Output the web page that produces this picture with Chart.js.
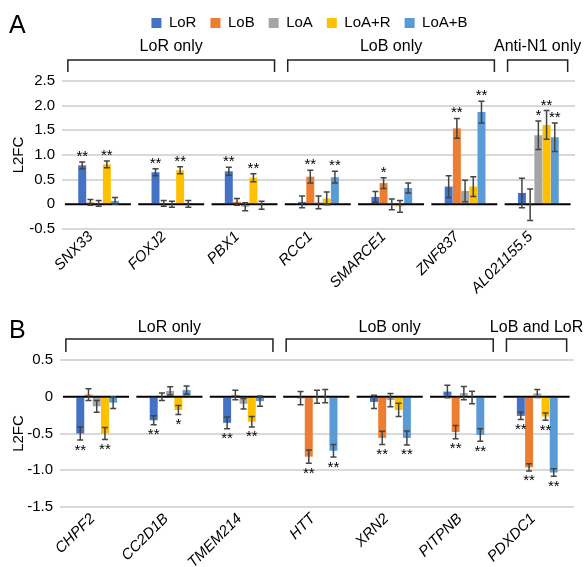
<!DOCTYPE html>
<html>
<head>
<meta charset="utf-8">
<script src="https://cdn.jsdelivr.net/npm/chart.js@4.4.1/dist/chart.umd.min.js"></script>
<style>
  html, body { margin: 0; padding: 0; background: #fff; }
  #wrapA { position: absolute; left: 0; top: 0; width: 588px; height: 310px; }
  #wrapB { position: absolute; left: 0; top: 296px; width: 588px; height: 271px; }
</style>
</head>
<body>
<div id="wrapA"><canvas id="chartA" width="588" height="310"></canvas></div>
<div id="wrapB"><canvas id="chartB" width="588" height="271"></canvas></div>
<script>
// --- data ---
const seriesNames = ['LoR', 'LoB', 'LoA', 'LoA+R', 'LoA+B'];
const seriesColors = ['#4472C4', '#ED7D31', '#A5A5A5', '#FFC000', '#5B9BD5'];

// Panel A
const genesA = ['SNX33', 'FOXJ2', 'PBX1', 'RCC1', 'SMARCE1', 'ZNF837', 'AL021155.5'];
const lorA  = [0.79, 0.65, 0.67, 0.05, 0.15, 0.36, 0.23];
const lobA  = [0.04, 0.02, 0.05, 0.56, 0.43, 1.54, -0.01];
const loaA  = [0.02, 0.00, -0.05, 0.04, 0.00, 0.27, 1.40];
const loarA = [0.81, 0.69, 0.54, 0.12, -0.04, 0.36, 1.61];
const loabA = [0.07, 0.01, -0.02, 0.55, 0.33, 1.87, 1.36];

const lorErrA  = [0.07, 0.07, 0.08, 0.12, 0.11, 0.22, 0.30];
const lobErrA  = [0.06, 0.06, 0.07, 0.13, 0.11, 0.20, 0.32];
const loaErrA  = [0.06, 0.06, 0.08, 0.13, 0.11, 0.22, 0.29];
const loarErrA = [0.07, 0.07, 0.08, 0.13, 0.12, 0.20, 0.29];
const loabErrA = [0.07, 0.07, 0.08, 0.12, 0.10, 0.22, 0.29];

const lorStarsA  = ['**', '**', '**', '', '', '', ''];
const lobStarsA  = ['', '', '', '**', '*', '**', ''];
const loaStarsA  = ['', '', '', '', '', '', '*'];
const loarStarsA = ['**', '**', '**', '', '', '', '**'];
const loabStarsA = ['', '', '', '**', '', '**', '**'];

const groupsA = ['LoR only', 'LoB only', 'Anti-N1 only'];
const groupSpansA = [[0, 2], [3, 5], [6, 6]];
const yTicksA = { min: -0.5, max: 2.5, step: 0.5 };

// Panel B
const genesB = ['CHPF2', 'CC2D1B', 'TMEM214', 'HTT', 'XRN2', 'PITPNB', 'PDXDC1'];
const lorB  = [-0.50, -0.32, -0.355, -0.02, -0.07, 0.07, -0.26];
const lobB  = [0.03, 0.00, 0.025, -0.815, -0.56, -0.48, -0.96];
const loaB  = [-0.13, 0.08, -0.095, 0.00, -0.045, 0.05, 0.045];
const loarB = [-0.50, -0.18, -0.34, 0.01, -0.18, -0.01, -0.27];
const loabB = [-0.08, 0.09, -0.06, -0.735, -0.56, -0.52, -1.03];

const lorErrB  = [0.09, 0.06, 0.08, 0.09, 0.09, 0.085, 0.05];
const lobErrB  = [0.08, 0.05, 0.065, 0.09, 0.09, 0.09, 0.05];
const loaErrB  = [0.08, 0.055, 0.07, 0.09, 0.09, 0.09, 0.055];
const loarErrB = [0.08, 0.06, 0.07, 0.09, 0.09, 0.085, 0.05];
const loabErrB = [0.08, 0.055, 0.07, 0.085, 0.095, 0.085, 0.05];

const lorStarsB  = ['**', '**', '**', '', '', '', '**'];
const lobStarsB  = ['', '', '', '**', '**', '**', '**'];
const loaStarsB  = ['', '', '', '', '', '', ''];
const loarStarsB = ['**', '*', '**', '', '', '', '**'];
const loabStarsB = ['', '', '', '**', '**', '**', '**'];

const groupsB = ['LoR only', 'LoB only', 'LoB and LoR'];
const groupSpansB = [[0, 2], [3, 5], [6, 6]];
const yTicksB = { min: -1.5, max: 0.5, step: 0.5 };

const FONT = '"Liberation Sans", Arial, Helvetica, sans-serif';
Chart.defaults.font.family = FONT;
Chart.defaults.color = '#000';

// draws zero line segments, error bars, stars, brackets and panel letter
const decorPlugin = {
  id: 'decor',
  afterLayout(chart, args, opts) {
    if (chart.legend && opts.legendShift) {
      chart.legend.left += opts.legendShift;
      chart.legend.right += opts.legendShift;
      chart.legend.top += 1.5;
      chart.legend.bottom += 1.5;
    }
  },
  afterDatasetsDraw(chart, args, opts) {
    const ctx = chart.ctx;
    const x = chart.scales.x, y = chart.scales.y;
    const w = x.getPixelForValue(1) - x.getPixelForValue(0);
    const y0 = y.getPixelForValue(0);

    ctx.save();
    // segmented zero line
    ctx.strokeStyle = '#000';
    ctx.lineWidth = 2;
    x.getLabels().forEach((lab, j) => {
      const cx = x.getPixelForValue(j);
      ctx.beginPath();
      ctx.moveTo(cx - 0.46 * w, y0);
      ctx.lineTo(cx + 0.44 * w, y0);
      ctx.stroke();
    });

    // error bars + stars
    chart.data.datasets.forEach((ds, i) => {
      const meta = chart.getDatasetMeta(i);
      meta.data.forEach((bar, j) => {
        const v = ds.data[j], e = ds.errors[j];
        const yt = y.getPixelForValue(v + e);
        const yb = y.getPixelForValue(v - e);
        ctx.strokeStyle = '#444';
        ctx.lineWidth = 1.5;
        ctx.beginPath();
        ctx.moveTo(bar.x, yt); ctx.lineTo(bar.x, yb);
        ctx.moveTo(bar.x - 3, yt); ctx.lineTo(bar.x + 3, yt);
        ctx.moveTo(bar.x - 3, yb); ctx.lineTo(bar.x + 3, yb);
        ctx.stroke();

        const s = ds.stars[j];
        if (s) {
          ctx.fillStyle = '#000';
          ctx.font = '15px ' + FONT;
          ctx.textAlign = 'center';
          ctx.textBaseline = 'alphabetic';
          ctx.fillText(s, bar.x, v >= 0 ? yt - 1 : yb + 14.5);
        }
      });
    });

    // group brackets
    ctx.strokeStyle = '#222';
    ctx.lineWidth = 1.5;
    ctx.fillStyle = '#000';
    ctx.font = '16px ' + FONT;
    ctx.textAlign = 'center';
    ctx.textBaseline = 'alphabetic';
    opts.groups.forEach((g, k) => {
      const [a, b] = opts.spans[k];
      const x1 = x.getPixelForValue(a) - 0.42 * w;
      const x2 = x.getPixelForValue(b) + 0.40 * w;
      ctx.beginPath();
      ctx.moveTo(x1, opts.bracketY + opts.bracketDrop);
      ctx.lineTo(x1, opts.bracketY);
      ctx.lineTo(x2, opts.bracketY);
      ctx.lineTo(x2, opts.bracketY + opts.bracketDrop);
      ctx.stroke();
      ctx.fillText(g, (x1 + x2) / 2, opts.labelY);
    });

    // panel letter
    ctx.font = '25px ' + FONT;
    ctx.textAlign = 'left';
    ctx.fillText(opts.letter, 9, opts.letterY);
    ctx.restore();
  }
};

function makeDatasets(values, errors, stars) {
  return seriesNames.map((name, i) => ({
    label: name,
    data: values[i],
    errors: errors[i],
    stars: stars[i],
    backgroundColor: seriesColors[i],
    borderWidth: 0,
    categoryPercentage: 0.56,
    barPercentage: 0.97
  }));
}

function makeChart(id, genes, datasets, ticks, lay, decor, showLegend) {
  return new Chart(document.getElementById(id), {
    type: 'bar',
    data: { labels: genes, datasets: datasets },
    plugins: [decorPlugin],
    options: {
      responsive: false,
      animation: false,
      layout: { padding: { left: 0, right: lay.right, top: 0, bottom: 0 } },
      scales: {
        x: {
          grid: { display: false },
          border: { display: false },
          ticks: {
            autoSkip: false, minRotation: 45, maxRotation: 45,
            padding: lay.labelPad, labelOffset: lay.labelShift,
            font: { size: 15, style: 'italic' }, color: '#000'
          },
          afterFit: s => { s.height = lay.canvasH - lay.bottom; }
        },
        xTop: {
          type: 'category',
          labels: genes,
          position: 'top',
          grid: { display: false },
          border: { display: false },
          ticks: { display: false },
          afterFit: s => { s.height = lay.top - (s.chart.legend ? s.chart.legend.height : 0); }
        },
        y: {
          min: ticks.min, max: ticks.max,
          border: { display: false },
          grid: {
            drawTicks: false, lineWidth: 2,
            color: c => (c.tick && c.tick.value === 0 ? 'rgba(0,0,0,0)' : '#d9d9d9')
          },
          ticks: { stepSize: ticks.step, padding: 7, font: { size: 15 }, color: '#000' },
          title: { display: true, text: 'L2FC', font: { size: 15 }, color: '#000', padding: { top: 10, bottom: 0 } },
          afterFit: s => { s.width = lay.left; }
        }
      },
      plugins: {
        legend: {
          display: showLegend,
          position: 'top',
          labels: { boxWidth: 10, boxHeight: 10, padding: 14, font: { size: 15 }, color: '#000' }
        },
        tooltip: { enabled: false },
        decor: decor
      }
    }
  });
}

makeChart('chartA', genesA,
  makeDatasets([lorA, lobA, loaA, loarA, loabA],
               [lorErrA, lobErrA, loaErrA, loarErrA, loabErrA],
               [lorStarsA, lobStarsA, loaStarsA, loarStarsA, loabStarsA]),
  yTicksA,
  { canvasH: 310, top: 81, bottom: 229, left: 62, right: 13, labelPad: -9, labelShift: -8 },
  { groups: groupsA, spans: groupSpansA, bracketY: 60, bracketDrop: 12, labelY: 51,
    letter: 'A', letterY: 33, legendShift: 22 },
  true);

makeChart('chartB', genesB,
  makeDatasets([lorB, lobB, loaB, loarB, loabB],
               [lorErrB, lobErrB, loaErrB, loarErrB, loabErrB],
               [lorStarsB, lobStarsB, loaStarsB, loarStarsB, loabStarsB]),
  yTicksB,
  { canvasH: 271, top: 64, bottom: 211, left: 60, right: 14, labelPad: -5, labelShift: -4 },
  { groups: groupsB, spans: groupSpansB, bracketY: 43, bracketDrop: 13, labelY: 36,
    letter: 'B', letterY: 42, legendShift: 0 },
  false);
</script>
</body>
</html>
